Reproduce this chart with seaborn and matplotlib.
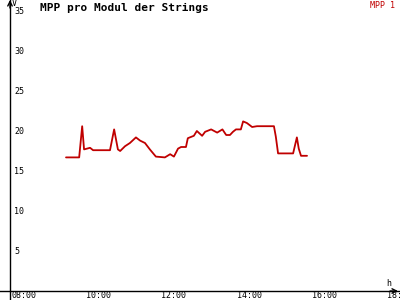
import matplotlib
matplotlib.use("Agg")
import matplotlib.pyplot as plt
import seaborn as sns
import pandas as pd

# ---- data ----
hours = [9.33, 9.68, 9.76, 9.81, 9.97, 10.05, 10.50, 10.61, 10.71, 10.77, 10.90,
         11.03, 11.19, 11.30, 11.43, 11.56, 11.72, 11.96, 12.10, 12.20, 12.31,
         12.39, 12.52, 12.57, 12.73, 12.81, 12.95, 13.03, 13.19, 13.35, 13.49,
         13.59, 13.69, 13.77, 13.85, 13.98, 14.04, 14.14, 14.28, 14.41, 14.86,
         14.91, 14.97, 15.37, 15.47, 15.52, 15.58, 15.74]
mpp1 = [16.7, 16.7, 20.6, 17.7, 17.9, 17.6, 17.6, 20.2, 17.7, 17.5, 18.1,
        18.5, 19.2, 18.8, 18.5, 17.7, 16.8, 16.7, 17.1, 16.8, 17.8,
        18.0, 18.0, 19.1, 19.4, 20.0, 19.4, 19.9, 20.2, 19.8, 20.2,
        19.5, 19.5, 19.9, 20.2, 20.2, 21.2, 21.0, 20.5, 20.6, 20.6,
        19.3, 17.2, 17.2, 19.2, 17.8, 16.9, 16.9]
x_ticks = [8, 10, 12, 14, 16, 18]
x_labels = ["08:00", "10:00", "12:00", "14:00", "16:00", "18:00"]
y_ticks = [5, 10, 15, 20, 25, 30, 35]
y_labels = ["5", "10", "15", "20", "25", "30", "35"]
title = "MPP pro Modul der Strings"
series_name = "MPP 1"

df = pd.DataFrame({"h": hours, "v": mpp1})

sns.set_style("white")
plt.rcParams["font.family"] = ["DejaVu Sans Mono", "DejaVu Sans"]

W, H = 400, 300
fig = plt.figure(figsize=(4, 3), dpi=100)
ax = fig.add_axes([0, 0, 1, 1])

# pixel mapping: px = 16 + (h-8)*37.6 ; py = 291 - 8*v
PXH = 37.6
PYV = 8.0
def hx(px):
    return 8 + (px - 16) / PXH
def vy(py):
    return (291 - py) / PYV

ax.set_xlim(hx(0), hx(W))
ax.set_ylim(vy(H), vy(0))

red = "#c00000"
sns.lineplot(data=df, x="h", y="v", ax=ax, color=red, linewidth=1.3)

for s in ["top", "right"]:
    ax.spines[s].set_visible(False)
ax.spines["left"].set_position(("data", hx(10)))
ax.spines["bottom"].set_position(("data", 0))
for s in ["left", "bottom"]:
    ax.spines[s].set_color("black")
    ax.spines[s].set_linewidth(1.0)

ax.set_xticks(x_ticks)
ax.set_yticks(y_ticks)
ax.tick_params(axis="both", direction="inout", length=5, width=1, color="black",
               labelleft=False, labelbottom=False)
ax.set_xlabel("")
ax.set_ylabel("")
ax.grid(False)

# arrowheads
ax.annotate("", xy=(hx(398), 0), xytext=(hx(390), 0),
            arrowprops=dict(arrowstyle="->", color="black", lw=1.0,
                            shrinkA=0, shrinkB=0, mutation_scale=8))
ax.annotate("", xy=(hx(10), vy(0)), xytext=(hx(10), vy(8)),
            arrowprops=dict(arrowstyle="->", color="black", lw=1.0,
                            shrinkA=0, shrinkB=0, mutation_scale=8))

fs = 6
for t, lab in zip(x_ticks, x_labels):
    ax.text(t - 5 / PXH, vy(299.5), lab, ha="left", va="bottom", fontsize=fs,
            color="black")
for t, lab in zip(y_ticks, y_labels):
    ax.text(hx(14), t, lab, ha="left", va="center", fontsize=fs, color="black")

ax.text(hx(14), vy(3), "V", ha="center", va="center", fontsize=fs, color="black")
ax.text(hx(389), vy(284), "h", ha="center", va="center", fontsize=fs, color="black")

fig.text(40 / W, 1 - 8 / H, title, ha="left", va="center", fontsize=8,
         fontweight="bold", color="black")
fig.text(395 / W, 1 - 5 / H, series_name, ha="right", va="center", fontsize=6,
         color=red)

fig.savefig("out.png", dpi=100, facecolor="white")
